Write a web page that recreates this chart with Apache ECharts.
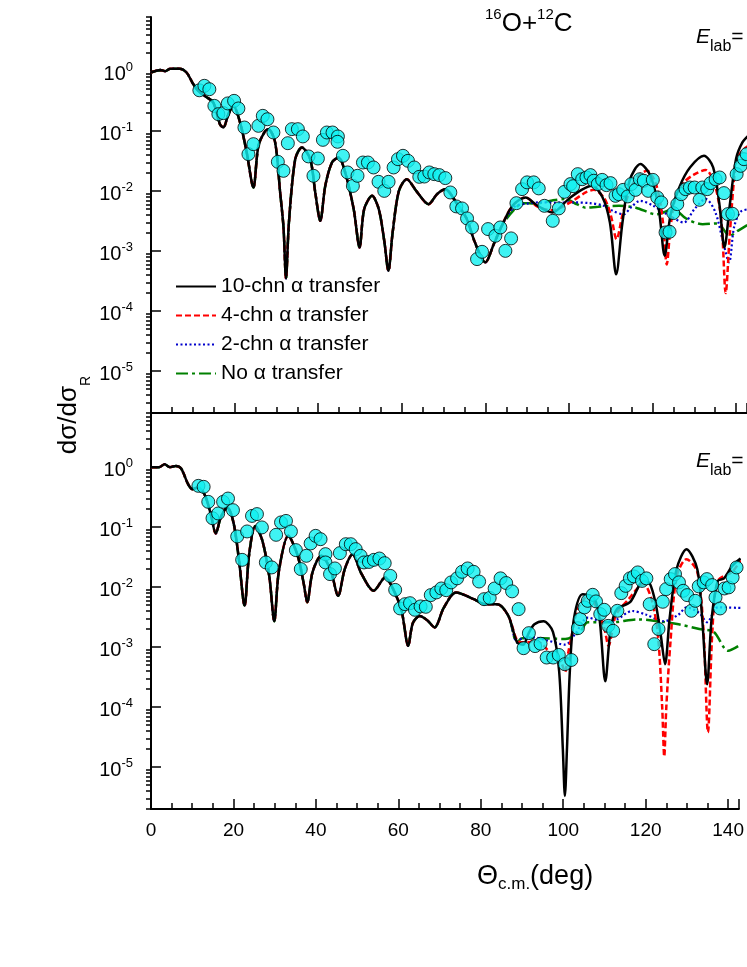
<!DOCTYPE html>
<html>
<head>
<meta charset="utf-8">
<title>16O+12C</title>
<script src="https://cdn.jsdelivr.net/npm/echarts@6.0.0/dist/echarts.min.js"></script>
<style>
  html, body { margin: 0; padding: 0; background: #fff; }
  #chart { width: 747px; height: 967px; }
</style>
</head>
<body>
<div id="chart"></div>
<script>
// upper panel: calculations
var topBlackX = [0, 2.2, 3.4, 4.6, 6.9, 8.5, 10.1, 11.3, 13, 14.9, 16.5, 17.3, 18.5, 19.7, 21.3, 22.9, 24.5, 25.7, 27.3, 28.1, 29.7, 30.9, 31.7, 32.3, 33, 34.5, 36.1, 38.1, 39.3, 40.5, 41.7, 43.3, 44.9, 46.5, 48.5, 49.9, 51, 52.9, 54.5, 55.8, 56.8, 57.8, 59.3, 61.2, 63.5, 66.4, 68.5, 70.4, 73, 75.5, 77.5, 80, 82, 84, 86.5, 89.6, 92.5, 96, 100, 103, 105.5, 108, 109.8, 111.3, 112.8, 114.5, 117.1, 119.5, 121.5, 122.9, 124.3, 126.5, 129, 132.3, 134.5, 136, 137.2, 138.5, 140, 141.5, 143];
var topBlackY = [0.95, 1.05, 1.0, 1.1, 1.1, 0.95, 0.61, 0.47, 0.38, 0.3, 0.13, 0.115, 0.19, 0.264, 0.14, 0.044, 0.0115, 0.057, 0.1, 0.108, 0.065, 0.0095, 0.0025, 0.00035, 0.003, 0.034, 0.0535, 0.034, 0.0095, 0.0032, 0.0123, 0.03, 0.0365, 0.02, 0.005, 0.00115, 0.005, 0.00835, 0.005, 0.0015, 0.00047, 0.002, 0.01, 0.0158, 0.01, 0.00607, 0.009, 0.0108, 0.0065, 0.0035, 0.0014, 0.00065, 0.0013, 0.0027, 0.0057, 0.00785, 0.0057, 0.0044, 0.0075, 0.0105, 0.0123, 0.008, 0.003, 0.00041, 0.003, 0.015, 0.0282, 0.018, 0.005, 0.00084, 0.004, 0.012, 0.025, 0.0389, 0.025, 0.006, 0.00115, 0.006, 0.035, 0.065, 0.085];
var topRedX = [89.6, 92.5, 96, 100, 104, 106, 108.5, 110, 111.4, 112.8, 114.5, 116.5, 118.7, 121, 122.5, 123.4, 124.3, 125.5, 127.5, 130, 132.7, 135, 136.5, 137.5, 138.5, 140, 141.5, 143];
var topRedY = [0.0079, 0.0055, 0.0048, 0.0063, 0.0095, 0.0105, 0.0075, 0.004, 0.00158, 0.004, 0.01, 0.018, 0.0218, 0.012, 0.003, 0.0006, 0.0025, 0.008, 0.014, 0.019, 0.0226, 0.012, 0.003, 0.0002, 0.002, 0.03, 0.048, 0.057];
var topBlueX = [87, 90, 93, 97, 101, 105, 108, 110.5, 113, 115, 117, 120, 123.5, 127.5, 130, 132.7, 135, 136.8, 138.3, 139.5, 141, 143];
var topBlueY = [0.0055, 0.0062, 0.0065, 0.0064, 0.0065, 0.0063, 0.0058, 0.0047, 0.0041, 0.0055, 0.0069, 0.0058, 0.0041, 0.003, 0.005, 0.0074, 0.0045, 0.0015, 0.00065, 0.0025, 0.0045, 0.005];
var topGreenX = [87, 89, 92, 96, 99, 102, 104, 107, 112, 116, 121, 125, 128, 132, 135.5, 138.5, 140.5, 143];
var topGreenY = [0.005, 0.0063, 0.0062, 0.007, 0.0074, 0.006, 0.0053, 0.0055, 0.0057, 0.0053, 0.0041, 0.005, 0.0035, 0.0028, 0.0029, 0.0018, 0.0022, 0.0028];

// upper panel: data
var topExpX = [11.57, 12.77, 13.96, 15.16, 16.12, 17.32, 18.37, 19.88, 20.91, 22.35, 23.31, 24.5, 25.7, 26.75, 27.86, 29.29, 30.35, 31.69, 32.74, 33.7, 35.14, 36.33, 37.68, 38.87, 39.93, 41.13, 42.08, 43.43, 44.72, 44.62, 45.92, 47.02, 48.3, 49.41, 50.71, 51.9, 53.25, 54.44, 55.81, 56.84, 58.04, 59.09, 60.29, 61.49, 62.99, 64.19, 65.39, 66.59, 67.78, 68.98, 70.42, 71.62, 73.05, 74.42, 75.62, 76.81, 78.01, 79.21, 80.65, 82.4, 83.59, 84.79, 86.16, 87.43, 88.79, 89.99, 91.57, 92.77, 94.13, 96.12, 97.56, 98.92, 100.36, 101.0, 102.11, 103.16, 104.19, 105.15, 105.94, 106.9, 107.95, 108.98, 109.94, 111.14, 111.93, 112.98, 114.08, 114.9, 115.93, 116.96, 117.92, 118.97, 120.07, 121.13, 122.08, 123.11, 124.07, 124.96, 125.92, 126.87, 127.9, 128.93, 130.06, 131.26, 131.9, 133.1, 133.89, 135.09, 136.05, 137.08, 138.04, 139.09, 140.12, 141.08, 141.87, 142.51];
var topExpY = [0.48, 0.57, 0.5, 0.264, 0.192, 0.2, 0.29, 0.32, 0.239, 0.115, 0.0414, 0.0607, 0.1226, 0.18, 0.158, 0.095, 0.0308, 0.0218, 0.063, 0.108, 0.108, 0.0816, 0.0379, 0.018, 0.035, 0.0716, 0.095, 0.095, 0.0816, 0.0664, 0.0388, 0.0205, 0.0122, 0.018, 0.03, 0.03, 0.0248, 0.0143, 0.0101, 0.0143, 0.0248, 0.0341, 0.0388, 0.032, 0.0248, 0.0173, 0.0175, 0.0205, 0.0192, 0.0185, 0.0165, 0.0095, 0.00556, 0.00515, 0.00351, 0.00248, 0.000736, 0.000973, 0.00233, 0.0018, 0.00248, 0.00101, 0.00163, 0.0063, 0.0108, 0.014, 0.014, 0.0111, 0.00569, 0.0032, 0.00515, 0.00973, 0.0131, 0.0121, 0.0192, 0.0158, 0.0169, 0.0185, 0.0149, 0.0131, 0.0154, 0.0126, 0.0136, 0.00835, 0.0089, 0.0105, 0.00816, 0.0131, 0.0105, 0.0158, 0.0149, 0.0101, 0.0154, 0.00785, 0.00648, 0.00205, 0.0021, 0.0043, 0.00607, 0.0089, 0.0108, 0.0115, 0.0115, 0.00716, 0.0115, 0.0108, 0.0136, 0.0158, 0.0169, 0.00927, 0.00414, 0.0042, 0.0192, 0.0264, 0.0341, 0.0414];

// lower panel: calculations
var botBlackX = [0, 2, 3.3, 4.6, 6, 7.3, 9, 10, 11.3, 13, 14.5, 15.7, 17, 18.5, 20, 21.3, 22.7, 23.8, 25.3, 27, 28.7, 29.9, 31, 33.3, 35.5, 37, 37.9, 39.2, 41.3, 43.5, 45.4, 47, 48.9, 51, 54, 56.8, 59, 60.8, 62.4, 63.5, 65.2, 67, 68.8, 71, 74, 78.3, 81, 84, 86.7, 88.8, 90.3, 91.6, 93, 95.2, 97.5, 99, 99.9, 100.4, 100.9, 101.6, 102.6, 104.7, 107.5, 108.8, 110.2, 111.5, 113, 116.2, 119.5, 121, 122.5, 123.7, 124.7, 125.8, 127.5, 129.9, 132.5, 133.7, 134.9, 136, 137.5, 139, 141, 143];
var botBlackY = [1.0, 1.0, 1.12, 1.0, 1.05, 0.95, 0.52, 0.43, 0.46, 0.35, 0.165, 0.0785, 0.15, 0.213, 0.12, 0.03, 0.0049, 0.035, 0.105, 0.06, 0.015, 0.0027, 0.018, 0.0716, 0.035, 0.012, 0.0056, 0.018, 0.0333, 0.02, 0.0072, 0.02, 0.0355, 0.017, 0.0087, 0.0145, 0.0085, 0.004, 0.00105, 0.0025, 0.0033, 0.0028, 0.00213, 0.0045, 0.00816, 0.0063, 0.0052, 0.0052, 0.0033, 0.0012, 0.0011, 0.0017, 0.0024, 0.0027, 0.0018, 0.0004, 0.00002, 0.0000033, 0.00002, 0.0004, 0.003, 0.0076, 0.0065, 0.003, 0.00027, 0.002, 0.0043, 0.0056, 0.0127, 0.0115, 0.005, 0.0015, 0.00052, 0.003, 0.02, 0.043, 0.02, 0.003, 0.00024, 0.003, 0.0127, 0.014, 0.0226, 0.03];
var botRedX = [88.8, 90.3, 91.6, 93, 95, 97.5, 99.5, 100.4, 101.2, 102, 103.5, 106, 108.5, 110, 111, 112, 112.8, 116, 118, 119.5, 121.5, 123, 124, 124.5, 125, 126, 127.5, 129.9, 132.5, 134, 135.1, 136.2, 137.5, 141, 143];
var botRedY = [0.0013, 0.0012, 0.0012, 0.0013, 0.0011, 0.0007, 0.00055, 0.00038, 0.0008, 0.0015, 0.0043, 0.0072, 0.004, 0.002, 0.00105, 0.002, 0.0035, 0.0065, 0.0095, 0.0112, 0.006, 0.0015, 0.0001, 0.000015, 0.0001, 0.0012, 0.015, 0.0293, 0.018, 0.002, 0.000038, 0.002, 0.0127, 0.018, 0.028];
var botBlueX = [88.8, 90, 93, 96, 100.5, 103, 106, 110, 113, 116.7, 120, 124.5, 128, 129.9, 133, 134.9, 137.5, 143];
var botBlueY = [0.0012, 0.0014, 0.00145, 0.0013, 0.0011, 0.0017, 0.0031, 0.0026, 0.0029, 0.004, 0.0035, 0.0027, 0.0035, 0.0046, 0.0037, 0.0026, 0.0046, 0.0045];
var botGreenX = [88.8, 90, 95, 100.5, 104, 106, 112, 118, 123, 128, 133, 136.5, 140, 143];
var botGreenY = [0.0012, 0.0014, 0.0014, 0.00136, 0.0018, 0.0026, 0.0026, 0.0029, 0.0027, 0.0024, 0.002, 0.0018, 0.00087, 0.0011];

// lower panel: data
var botExpX = [11.5, 12.77, 13.89, 14.92, 16.29, 17.49, 18.68, 19.88, 20.91, 22.11, 23.31, 24.5, 25.7, 26.9, 27.86, 29.29, 30.35, 31.54, 32.74, 33.94, 35.14, 36.33, 37.68, 38.72, 39.93, 41.13, 42.32, 42.32, 43.43, 44.62, 45.82, 47.26, 48.46, 49.65, 50.85, 51.66, 52.86, 54.06, 55.4, 56.69, 58.04, 59.23, 60.43, 61.63, 62.83, 64.02, 65.39, 66.66, 67.86, 69.22, 70.42, 71.62, 72.81, 74.25, 75.45, 76.81, 78.25, 79.59, 80.79, 82.16, 83.35, 84.79, 86.16, 87.59, 89.17, 90.37, 91.66, 93.17, 94.5, 95.98, 97.56, 98.92, 100.36, 101.96, 103.55, 104.12, 105.15, 105.94, 107.14, 107.95, 108.98, 109.94, 110.9, 112.1, 113.13, 114.08, 115.14, 116.17, 117.13, 118.08, 119.11, 120.17, 120.96, 122.08, 123.11, 124.15, 124.96, 126.06, 127.11, 128.07, 129.1, 130.06, 131.09, 132.05, 132.86, 134.06, 134.85, 136.12, 136.93, 138.04, 139.09, 140.12, 141.08, 142.04, 142.75];
var botExpY = [0.488, 0.47, 0.264, 0.141, 0.169, 0.264, 0.3, 0.192, 0.07, 0.0285, 0.0848, 0.154, 0.165, 0.099, 0.0258, 0.0213, 0.0745, 0.12, 0.127, 0.0848, 0.0414, 0.02, 0.0333, 0.0535, 0.0716, 0.063, 0.0355, 0.0258, 0.0165, 0.0205, 0.0369, 0.052, 0.052, 0.043, 0.0333, 0.0258, 0.0263, 0.0285, 0.03, 0.0251, 0.0154, 0.009, 0.00441, 0.0052, 0.0054, 0.00419, 0.00477, 0.0047, 0.00736, 0.00816, 0.0095, 0.0089, 0.012, 0.014, 0.018, 0.0205, 0.018, 0.0124, 0.0063, 0.0066, 0.0095, 0.014, 0.0117, 0.0085, 0.0043, 0.00096, 0.00171, 0.00104, 0.00114, 0.00067, 0.00067, 0.00074, 0.00052, 0.00061, 0.00207, 0.00293, 0.00459, 0.00591, 0.00745, 0.00578, 0.00355, 0.00419, 0.00226, 0.00187, 0.00403, 0.00794, 0.0105, 0.014, 0.0151, 0.0176, 0.0127, 0.014, 0.0052, 0.00112, 0.002, 0.0057, 0.00927, 0.0136, 0.0165, 0.012, 0.00868, 0.00736, 0.00403, 0.00591, 0.0103, 0.012, 0.0136, 0.0108, 0.00673, 0.00441, 0.0095, 0.0099, 0.0145, 0.0213, 0.0274];

var legendNames = ['10-chn \u03b1 transfer', '4-chn \u03b1 transfer', '2-chn \u03b1 transfer', 'No \u03b1 transfer'];
var majorTicks = [1e-5, 1e-4, 1e-3, 1e-2, 1e-1, 1];
var xLabels = [0, 20, 40, 60, 80, 100, 120, 140];

var FONT = 'Liberation Sans, Arial, sans-serif';
var Y_MIN = 2e-6, Y_MAX = 8, X_MAX = 142.6;

var minorTicks = [];
for (var e = -6; e <= 0; e++) {
  for (var k = 2; k <= 9; k++) {
    var v = k * Math.pow(10, e);
    if (v >= Y_MIN && v <= Y_MAX) minorTicks.push(v);
  }
}

function pairs(xs, ys) {
  return xs.map(function (x, i) { return [x, ys[i]]; });
}
// the alternative calculations coincide with the 10-chn one at forward angles
function withBase(baseX, baseY, cut, tailX, tailY) {
  var out = [];
  baseX.forEach(function (x, i) { if (x < cut) out.push([x, baseY[i]]); });
  return out.concat(pairs(tailX, tailY));
}

function line(name, data, gi, color, width, type, z) {
  return {
    type: 'line', name: name, xAxisIndex: gi, yAxisIndex: gi * 2,
    data: data, symbol: 'none', showSymbol: false, smooth: 0.3,
    lineStyle: { color: color, width: width, type: type },
    itemStyle: { color: color }, z: z, silent: true
  };
}
function points(xs, ys, gi) {
  return {
    type: 'scatter', xAxisIndex: gi, yAxisIndex: gi * 2,
    data: pairs(xs, ys), symbol: 'circle', symbolSize: 13,
    itemStyle: { color: '#0ff0f0', borderColor: '#000', borderWidth: 1 },
    z: 10, silent: true
  };
}

function xAxis(gi) {
  return {
    type: 'value', gridIndex: gi, min: 0, max: X_MAX, interval: 20,
    axisLine: { show: true, onZero: false, lineStyle: { color: '#000', width: 2 } },
    axisTick: { show: true, inside: true, length: 10, lineStyle: { color: '#000', width: 1.5 } },
    minorTick: { show: true, splitNumber: 4, length: 6, lineStyle: { color: '#000', width: 1.5 } },
    splitLine: { show: false },
    axisLabel: {
      show: gi === 1, showMaxLabel: false, margin: 12,
      fontSize: 19, fontFamily: FONT, color: '#000',
      formatter: function (v) { return xLabels.indexOf(v) >= 0 ? String(v) : ''; }
    }
  };
}
function yAxisMain(gi) {
  return {
    type: 'log', gridIndex: gi, logBase: 10, min: Y_MIN, max: Y_MAX,
    axisLine: { show: true, onZero: false, lineStyle: { color: '#000', width: 2 } },
    axisTick: { show: true, inside: true, length: 10, customValues: majorTicks, lineStyle: { color: '#000', width: 1.5 } },
    splitLine: { show: false },
    axisLabel: {
      customValues: majorTicks, margin: 18, color: '#000', fontFamily: FONT,
      formatter: function (v) { return '{m|10}{s|' + Math.round(Math.log10(v)) + '}'; },
      rich: {
        m: { fontSize: 20, lineHeight: 20, fontFamily: FONT, color: '#000', verticalAlign: 'top', padding: [3, 0, 0, 0] },
        s: { fontSize: 13, lineHeight: 13, fontFamily: FONT, color: '#000', verticalAlign: 'top' }
      }
    }
  };
}
function yAxisMinor(gi) {
  return {
    type: 'log', gridIndex: gi, logBase: 10, min: Y_MIN, max: Y_MAX,
    axisLine: { show: false },
    axisTick: { show: true, inside: true, length: 5, customValues: minorTicks, lineStyle: { color: '#000', width: 1.5 } },
    axisLabel: { show: false },
    splitLine: { show: false }
  };
}

var elabRich = {
  e: { fontSize: 21, lineHeight: 22, fontStyle: 'italic', fontFamily: FONT, fill: '#000', verticalAlign: 'bottom', padding: [0, 0, 7, 0] },
  m: { fontSize: 21, lineHeight: 22, fontFamily: FONT, fill: '#000', verticalAlign: 'bottom', padding: [0, 0, 7, 0] },
  s: { fontSize: 16, lineHeight: 16, fontFamily: FONT, fill: '#000', verticalAlign: 'bottom' }
};

var chart = echarts.init(document.getElementById('chart'), null, { renderer: 'canvas' });
chart.setOption({
  animation: false,
  backgroundColor: '#fff',
  grid: [
    { left: 151, top: 17, width: 596, height: 396 },
    { left: 151, top: 413, width: 596, height: 396 }
  ],
  xAxis: [xAxis(0), xAxis(1)],
  yAxis: [yAxisMain(0), yAxisMinor(0), yAxisMain(1), yAxisMinor(1)],
  legend: {
    data: legendNames, orient: 'vertical', left: 175, top: 276,
    itemWidth: 40, itemHeight: 14, itemGap: 8, padding: 0,
    itemStyle: { opacity: 0 },
    textStyle: { fontSize: 21, lineHeight: 21, fontFamily: FONT, color: '#000' },
    selectedMode: false
  },
  graphic: [
    {
      type: 'text', x: 485, y: 7,
      style: {
        text: '{s|16}{m|O+}{s|12}{m|C}', align: 'left', verticalAlign: 'top',
        rich: {
          m: { fontSize: 26, lineHeight: 26, fontFamily: FONT, fill: '#000', verticalAlign: 'top', padding: [4, 0, 0, 0] },
          s: { fontSize: 15, lineHeight: 15, fontFamily: FONT, fill: '#000', verticalAlign: 'top' }
        }
      }
    },
    {
      type: 'text', x: 696, y: 33,
      style: { text: '{e|E}{s|lab}{m|=}', align: 'left', verticalAlign: 'top', rich: elabRich }
    },
    {
      type: 'text', x: 696, y: 457,
      style: { text: '{e|E}{s|lab}{m|=}', align: 'left', verticalAlign: 'top', rich: elabRich }
    },
    {
      type: 'text', x: 80, y: 415, rotation: Math.PI / 2,
      style: {
        text: '{m|d\u03c3/d\u03c3}{s|R}', align: 'center', verticalAlign: 'middle',
        rich: {
          m: { fontSize: 26, lineHeight: 27, fontFamily: FONT, fill: '#000', verticalAlign: 'bottom', padding: [0, 0, 12, 0] },
          s: { fontSize: 14, lineHeight: 14, fontFamily: FONT, fill: '#000', verticalAlign: 'bottom' }
        }
      }
    },
    {
      type: 'text', x: 477, y: 865,
      style: {
        text: '{m|\u0398}{s|c.m.}{m|(deg)}', align: 'left', verticalAlign: 'top',
        rich: {
          m: { fontSize: 27, lineHeight: 28, fontFamily: FONT, fill: '#000', verticalAlign: 'bottom', padding: [0, 0, 3, 0] },
          s: { fontSize: 17, lineHeight: 17, fontFamily: FONT, fill: '#000', verticalAlign: 'bottom' }
        }
      }
    }
  ],
  series: [
    line(legendNames[3], withBase(topBlackX, topBlackY, 86.5, topGreenX, topGreenY), 0, '#008000', 2.5, [12, 4, 3, 4], 2),
    line(legendNames[2], withBase(topBlackX, topBlackY, 86.5, topBlueX, topBlueY), 0, '#0000cc', 2.2, [2, 2.5], 3),
    line(legendNames[1], withBase(topBlackX, topBlackY, 87, topRedX, topRedY), 0, '#ff0000', 2.5, [6, 3], 4),
    line(legendNames[0], pairs(topBlackX, topBlackY), 0, '#000000', 2.5, 'solid', 5),
    points(topExpX, topExpY, 0),

    line(legendNames[3], withBase(botBlackX, botBlackY, 88, botGreenX, botGreenY), 1, '#008000', 2.5, [12, 4, 3, 4], 2),
    line(legendNames[2], withBase(botBlackX, botBlackY, 88, botBlueX, botBlueY), 1, '#0000cc', 2.2, [2, 2.5], 3),
    line(legendNames[1], withBase(botBlackX, botBlackY, 88, botRedX, botRedY), 1, '#ff0000', 2.5, [6, 3], 4),
    line(legendNames[0], pairs(botBlackX, botBlackY), 1, '#000000', 2.5, 'solid', 5),
    points(botExpX, botExpY, 1)
  ]
});
</script>
</body>
</html>
